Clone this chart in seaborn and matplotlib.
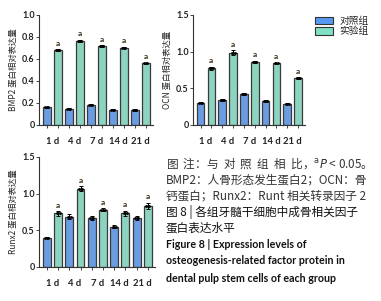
import matplotlib
matplotlib.use("Agg")
import matplotlib.pyplot as plt
import numpy as np
import pandas as pd
import seaborn as sns
from matplotlib.patches import Patch

days = ["1 d", "4 d", "7 d", "14 d", "21 d"]
groups = ["对照组", "实验组"]

bmp2_ctrl = [0.16, 0.148, 0.185, 0.14, 0.135]
bmp2_exp = [0.68, 0.764, 0.718, 0.703, 0.56]
bmp2_err_ctrl = [0.008, 0.006, 0.006, 0.006, 0.006]
bmp2_err_exp = [0.008, 0.008, 0.006, 0.006, 0.006]

ocn_ctrl = [0.305, 0.345, 0.418, 0.33, 0.29]
ocn_exp = [0.773, 0.986, 0.864, 0.84, 0.636]
ocn_err_ctrl = [0.01, 0.012, 0.012, 0.01, 0.01]
ocn_err_exp = [0.02, 0.03, 0.012, 0.012, 0.012]

runx2_ctrl = [0.40, 0.687, 0.664, 0.55, 0.664]
runx2_exp = [0.73, 1.07, 0.78, 0.73, 0.83]
runx2_err_ctrl = [0.01, 0.03, 0.025, 0.02, 0.025]
runx2_err_exp = [0.03, 0.03, 0.02, 0.04, 0.04]

colors = ["#5599f5", "#80e0c4"]

sns.set_style("ticks")
plt.rcParams["font.family"] = ["Lato", "Noto Sans CJK SC"]
cjk = ["Noto Sans CJK SC", "DejaVu Sans"]
lat = ["Lato", "Noto Sans CJK SC"]


def make_df(ctrl, exp):
    return pd.DataFrame({
        "day": days * 2,
        "group": [groups[0]] * len(days) + [groups[1]] * len(days),
        "value": ctrl + exp,
    })


def draw_panel(ax, ctrl, exp, err_c, err_e, ymax, yticks, yticklabels, ylabel):
    df = make_df(ctrl, exp)
    sns.barplot(data=df, x="day", y="value", hue="group", palette=colors,
                width=1.0, gap=0.3, edgecolor="#3a3a3a", linewidth=0.9,
                errorbar=None, legend=False, ax=ax)
    errs = err_c + err_e
    vals = ctrl + exp
    for i, p in enumerate(ax.patches[:len(vals)]):
        xc = p.get_x() + p.get_width() / 2
        ax.errorbar(xc, vals[i], yerr=errs[i], color="black", capsize=1.5,
                    elinewidth=0.7, capthick=0.7)
        ax.plot([xc - 0.07, xc, xc + 0.07], [vals[i]] * 3, "o", ms=1.0,
                color="black")
        if i >= len(ctrl):
            ax.text(xc, vals[i] + errs[i] + ymax * 0.025, "a", ha="center",
                    va="bottom", fontsize=6, fontweight="bold",
                    color="#3a2a10", family=lat)
    ax.set_xlim(-0.6, 4.57)
    ax.set_ylim(0, ymax)
    ax.set_yticks(yticks)
    ax.set_yticklabels(yticklabels, fontsize=6.5, fontweight="bold",
                       color="#222222", family=lat)
    ax.set_xticks(range(len(days)))
    ax.set_xticklabels(days, fontsize=6.8, fontweight="bold", color="#222222",
                       family=lat)
    ax.set_xticks([i + d for i in range(len(days)) for d in (-0.25, 0.25)],
                  minor=True)
    ax.tick_params(axis="x", which="major", length=0, pad=9)
    ax.tick_params(axis="x", which="minor", length=2, width=0.6)
    ax.tick_params(axis="y", length=2, width=0.6, pad=1)
    ax.set_xlabel("")
    ax.set_ylabel(ylabel, fontsize=6, family=cjk, labelpad=3)
    for s in ["top", "right"]:
        ax.spines[s].set_visible(False)
    for s in ["left", "bottom"]:
        ax.spines[s].set_linewidth(0.8)
        ax.spines[s].set_color("#333333")


fig = plt.figure(figsize=(3.81, 3.01), dpi=100)
W, H = 381, 301


def axes_px(x0, y_top, x1, y_bot):
    return fig.add_axes([x0 / W, 1 - y_bot / H, (x1 - x0) / W, (y_bot - y_top) / H])


ax1 = axes_px(39, 15, 153, 125)
draw_panel(ax1, bmp2_ctrl, bmp2_exp, bmp2_err_ctrl, bmp2_err_exp, 1.0,
           [0, 0.2, 0.4, 0.6, 0.8, 1.0], ["0", "0.2", "0.4", "0.6", "0.8", "1.0"],
           "BMP2 蛋白相对表达量")

ax2 = axes_px(193, 15, 305, 125)
draw_panel(ax2, ocn_ctrl, ocn_exp, ocn_err_ctrl, ocn_err_exp, 1.5,
           [0, 0.5, 1.0, 1.5], ["0", "0.5", "1.0", "1.5"],
           "OCN 蛋白相对表达量")

ax3 = axes_px(39, 157, 155, 267)
draw_panel(ax3, runx2_ctrl, runx2_exp, runx2_err_ctrl, runx2_err_exp, 1.5,
           [0, 0.5, 1.0, 1.5], ["0", "0.5", "1.0", "1.5"],
           "Runx2 蛋白相对表达量")

# legend
handles = [Patch(facecolor=c, edgecolor="#333333", linewidth=0.8) for c in colors]
fig.legend(handles, groups, loc="upper left", bbox_to_anchor=(306 / W, 1 - 7 / H),
           frameon=False, prop={"family": cjk, "size": 7}, handlelength=1.9,
           handleheight=0.8, labelspacing=0.05, handletextpad=0.6)

# caption
cap_x = 166 / W
cn_lines = [
    "图  注：与  对  照  组  相  比，$^{\\mathrm{a}}$$\\it{P}$ < 0.05。",
    "BMP2：人骨形态发生蛋白2；OCN：骨",
    "钙蛋白；Runx2：Runt 相关转录因子 2",
    "图 8 | 各组牙髓干细胞中成骨相关因子",
    "蛋白表达水平",
]
cn_colors = ["#333333", "#333333", "#333333", "#111111", "#111111"]
en_lines = [
    "Figure 8 | Expression levels of",
    "osteogenesis-related factor protein in",
    "dental pulp stem cells of each group",
]
cn_ys = [163, 180, 196, 212, 228]
en_ys = [245, 261, 278]
for txt, col, y in zip(cn_lines, cn_colors, cn_ys):
    fig.text(cap_x, 1 - y / H, txt, ha="left", va="center", fontsize=8.4,
             color=col, family=cjk)
for txt, y in zip(en_lines, en_ys):
    fig.text(cap_x, 1 - y / H, txt, ha="left", va="center", fontsize=7.7,
             fontweight="bold", color="#111111", family=lat)

fig.savefig("out.png", dpi=100)
plt.close(fig)
